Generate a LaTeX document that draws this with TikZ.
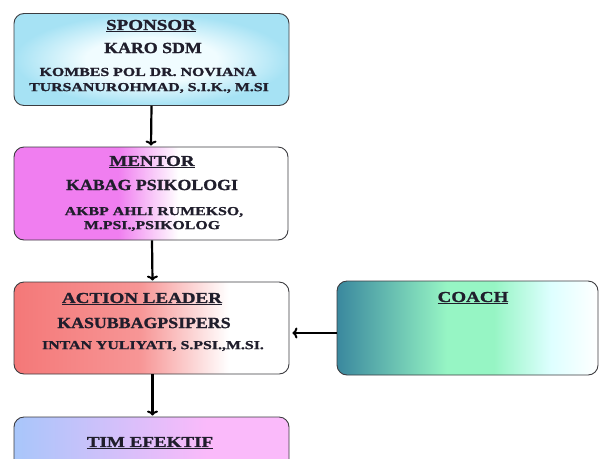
\documentclass[tikz,border=0pt]{standalone}
\usepackage{fontspec}
\setmainfont{Liberation Serif}
\newfontfamily\boxfont[FakeStretch=1.15, FakeBold=1.2]{Liberation Serif Bold}
\newfontfamily\headfont[FakeStretch=1.25, FakeBold=1.2]{Liberation Serif Bold}
\newfontfamily\namefont[FakeStretch=1.3, FakeBold=1.2]{Liberation Serif Bold}
\usepackage{tikz}
\usetikzlibrary{arrows,arrows.meta,backgrounds,positioning,fit}
\tikzstyle{every picture}+=[font=\boxfont]

\definecolor{inkgray}{RGB}{60,60,64}
\definecolor{textdark}{RGB}{32,30,44}
\definecolor{sponsorblue}{RGB}{166,226,244}
\definecolor{sponsorpale}{RGB}{240,252,255}
\definecolor{mentorpink}{RGB}{240,126,240}
\definecolor{leaderred}{RGB}{244,120,120}
\definecolor{leaderlight}{RGB}{247,150,150}
\definecolor{coachteal}{RGB}{58,136,158}
\definecolor{coachmint}{RGB}{150,245,196}
\definecolor{coachcyan}{RGB}{222,255,255}
\definecolor{timblue}{RGB}{168,198,250}
\definecolor{timpink}{RGB}{250,186,250}

\pgfdeclareradialshading{sponsorshade}{\pgfpoint{0bp}{0bp}}{color(0bp)=(sponsorpale); color(12bp)=(sponsorpale); color(25bp)=(sponsorblue); color(50bp)=(sponsorblue)}
\pgfdeclarehorizontalshading{mentorshade}{100bp}{color(0bp)=(mentorpink); color(25bp)=(mentorpink); color(44bp)=(mentorpink); color(55bp)=(white); color(100bp)=(white)}
\pgfdeclarehorizontalshading{leadershade}{100bp}{color(0bp)=(leaderred); color(25bp)=(leaderred); color(48bp)=(leaderlight); color(64bp)=(white); color(100bp)=(white)}
\pgfdeclarehorizontalshading{coachshade}{100bp}{color(0bp)=(coachteal); color(25bp)=(coachteal); color(46bp)=(coachmint); color(55bp)=(coachmint); color(66bp)=(coachcyan); color(75bp)=(white); color(100bp)=(white)}
\pgfdeclarehorizontalshading{timshade}{100bp}{color(0bp)=(timblue); color(25bp)=(timblue); color(60bp)=(timpink); color(100bp)=(timpink)}

\begin{document}
\begin{tikzpicture}
	[x=1pt, y=-1pt, inner sep=0pt, text=textdark,
	box/.style	= {rectangle, rounded corners=10pt, draw=inkgray, line width=0.9pt, minimum width=275pt, minimum height=92pt},
	title/.style	= {font=\headfont\fontsize{15.2}{17}\selectfont},
	post/.style	= {font=\boxfont\fontsize{15.5}{17}\selectfont},
	person/.style	= {font=\namefont\fontsize{12.2}{14}\selectfont},
	paths/.style	= {-{To[length=5pt, width=11pt, line width=2pt]}, line width=2.2pt, black, shorten >= 1pt}]
	
	\clip (0,0) rectangle (601,458);
	
	\node at (151.5, 59.5)	[box, shading=sponsorshade]	(sponsor)	{};
	\node at (151, 193.5)	[box, minimum width=274pt, minimum height=93pt, shading=mentorshade]	(mentor)	{};
	\node at (151.5, 328)	[box, shading=leadershade]	(leader)	{};
	\node at (467.5, 328)	[box, minimum width=261pt, minimum height=94pt, shading=coachshade]	(coach)	{};
	\node at (151.5, 443.5)	[box, minimum height=53pt, shading=timshade]	(tim)	{};
	
	\node at (151, 26)	[title]		(sponsortitle)	{\underline{SPONSOR}};
	\node at (153, 48)	[post]		(sponsorpost)	{KARO SDM};
	\node at (148, 72)	[person]	(sponsorname)	{KOMBES POL DR. NOVIANA};
	\node at (149, 88)	[person]	(sponsorname2)	{TURSANUROHMAD, S.I.K., M.SI};
	
	\node at (152, 162)	[title]		(mentortitle)	{\underline{MENTOR}};
	\node at (152, 185)	[post]		(mentorpost)	{KABAG PSIKOLOGI};
	\node at (154, 212)	[person]	(mentorname)	{AKBP AHLI RUMEKSO,};
	\node at (152, 226)	[person]	(mentorname2)	{M.PSI.,PSIKOLOG};
	
	\node at (142, 299)	[title]		(leadertitle)	{\underline{ACTION LEADER}};
	\node at (144, 323)	[post]		(leaderpost)	{KASUBBAGPSIPERS};
	\node at (153, 346)	[person]	(leadername)	{INTAN YULIYATI, S.PSI.,M.SI.};
	
	\node at (473, 298)	[title]		(coachtitle)	{\underline{COACH}};
	
	\node at (150, 443)	[title]		(timtitle)	{\underline{TIM EFEKTIF}};
	
	\draw [paths] (sponsor.south) -- (mentor.north);
	\draw [paths] ([xshift=1pt]mentor.south) -- ([xshift=1pt]leader.north);
	\draw [paths] ([yshift=-5pt]coach.west) -- ([yshift=-5pt, xshift=2pt]leader.east);
	\draw [paths] ([xshift=1pt]leader.south) -- ([xshift=1pt]tim.north);
	
\end{tikzpicture}
\end{document}
